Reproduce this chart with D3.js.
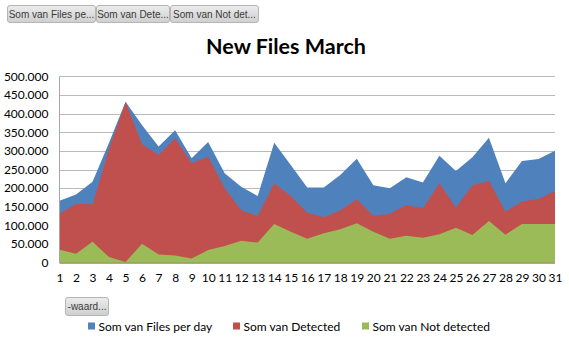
<!DOCTYPE html>
<html>
<head>
<meta charset="utf-8">
<script src="https://cdn.jsdelivr.net/npm/d3@7"></script>
<style>
  html, body { margin: 0; padding: 0; background: #fff; }
  #chart { width: 569px; height: 345px; }
</style>
</head>
<body>
<div id="chart"></div>
<script>
{
  const days = d3.range(1, 32);
  const filesPerDay = [166, 183, 217, 322, 432, 369, 312, 355, 280, 324, 240, 204, 179, 322, 262, 202, 202, 235, 279, 208, 200, 229, 215, 287, 246, 283, 335, 213, 273, 278, 300].map(v => v * 1000);
  const detected = [131, 158, 156, 305, 431, 318, 289, 334, 267, 284, 200, 141, 125, 213, 179, 134, 122, 141, 170, 126, 131, 155, 146, 213, 148, 208, 219, 137, 164, 171, 192].map(v => v * 1000);
  const notDetected = [35, 24, 56, 15, 2, 51, 22, 19, 11, 34, 45, 59, 54, 104, 83, 64, 79, 90, 106, 83, 64, 72, 67, 76, 94, 74, 112, 75, 104, 104, 104].map(v => v * 1000);
  const yTicks = [0, 50000, 100000, 150000, 200000, 250000, 300000, 350000, 400000, 450000, 500000];

  const seriesNames = ["Som van Files per day", "Som van Detected", "Som van Not detected"];
  const buttonLabels = ["Som van Files pe...", "Som van Dete...", "Som van Not det..."];
  const colors = ["#4F81BD", "#C0504D", "#9BBB59"];

  const width = 569;
  const height = 345;
  const FONT = "Lato, 'Open Sans', sans-serif";

  const svg = d3.select("#chart")
    .append("svg")
    .attr("width", width)
    .attr("height", height)
    .style("font-family", FONT);

  const defs = svg.append("defs");
  const grad = defs.append("linearGradient")
    .attr("id", "btnGrad")
    .attr("x1", 0).attr("y1", 0).attr("x2", 0).attr("y2", 1);
  grad.append("stop").attr("offset", "0%").attr("stop-color", "#ececec");
  grad.append("stop").attr("offset", "100%").attr("stop-color", "#cfcfcf");

  const x = d3.scalePoint().domain(days).range([59.5, 555]);
  const y = d3.scaleLinear().domain([0, 500000]).range([262.7, 76.3]);

  const nl = d3.formatLocale({ decimal: ",", thousands: ".", grouping: [3], currency: ["", ""] });
  const fmt = nl.format(",d");

  // gridlines
  svg.append("g")
    .selectAll("line")
    .data(yTicks.filter(t => t > 0))
    .enter()
    .append("line")
    .attr("x1", 59.5)
    .attr("x2", 555)
    .attr("y1", d => Math.round(y(d)) + 0.5)
    .attr("y2", d => Math.round(y(d)) + 0.5)
    .attr("stroke", "#b9b9b9")
    .attr("stroke-width", 1);

  // areas, drawn overlapping (not stacked)
  const allSeries = [filesPerDay, detected, notDetected];
  const area = d3.area()
    .x((d, i) => x(days[i]))
    .y0(y(0))
    .y1(d => y(d));

  svg.append("g")
    .selectAll("path")
    .data(allSeries)
    .enter()
    .append("path")
    .attr("d", d => area(d))
    .attr("fill", (d, i) => colors[i]);

  // axes lines
  svg.append("line")
    .attr("x1", 59.5).attr("x2", 59.5)
    .attr("y1", y(500000)).attr("y2", y(0))
    .attr("stroke", "#a6a6a6");
  svg.append("line")
    .attr("x1", 59.5).attr("x2", 555)
    .attr("y1", Math.round(y(0)) + 0.5).attr("y2", Math.round(y(0)) + 0.5)
    .attr("stroke", "#a6a6a6");

  // y axis labels
  const yAxis = d3.axisLeft(y)
    .tickValues(yTicks)
    .tickFormat(fmt)
    .tickSize(0)
    .tickPadding(11);
  const gy = svg.append("g")
    .attr("transform", "translate(59.5,0)")
    .call(yAxis);
  gy.select(".domain").remove();
  gy.selectAll("text")
    .style("font-family", FONT)
    .style("font-size", "12px")
    .attr("fill", "#000");

  // x axis labels
  const xAxis = d3.axisBottom(x).tickSize(0).tickPadding(11);
  const gx = svg.append("g")
    .attr("transform", `translate(0,${y(0)})`)
    .call(xAxis);
  gx.select(".domain").remove();
  gx.selectAll("text")
    .style("font-family", FONT)
    .style("font-size", "12px")
    .attr("fill", "#000");

  // title
  svg.append("text")
    .attr("x", 286)
    .attr("y", 54)
    .attr("text-anchor", "middle")
    .style("font-size", "21.5px")
    .style("font-weight", "bold")
    .attr("fill", "#000")
    .text("New Files March");

  // field buttons
  function button(x0, y0, w, h, label) {
    const g = svg.append("g");
    g.append("rect")
      .attr("x", x0 + 0.5).attr("y", y0 + 0.5)
      .attr("width", w).attr("height", h)
      .attr("rx", 2.5)
      .attr("fill", "url(#btnGrad)")
      .attr("stroke", "#b5b5b5");
    g.append("text")
      .attr("x", x0 + w / 2 + 0.5)
      .attr("y", y0 + h / 2 + 4)
      .attr("text-anchor", "middle")
      .style("font-family", "'Liberation Sans', Arial, sans-serif")
      .style("font-size", "10px")
      .attr("fill", "#3a3a3a")
      .text(label);
  }
  const btnX = [7, 96, 170];
  const btnW = [88, 73, 88];
  buttonLabels.forEach((l, i) => button(btnX[i], 5, btnW[i], 17, l));
  button(65, 297, 43, 18, "-waard...");

  // legend
  const legendX = [88, 233, 362];
  const legend = svg.append("g")
    .selectAll("g")
    .data(seriesNames)
    .enter()
    .append("g")
    .attr("transform", (d, i) => `translate(${legendX[i]},326)`);
  legend.append("rect")
    .attr("x", 0).attr("y", -3.5)
    .attr("width", 7).attr("height", 7)
    .attr("fill", (d, i) => colors[i]);
  legend.append("text")
    .attr("x", 10.5)
    .attr("y", 4.5)
    .style("font-size", "12px")
    .attr("fill", "#000")
    .text(d => d);
}
</script>
</body>
</html>
